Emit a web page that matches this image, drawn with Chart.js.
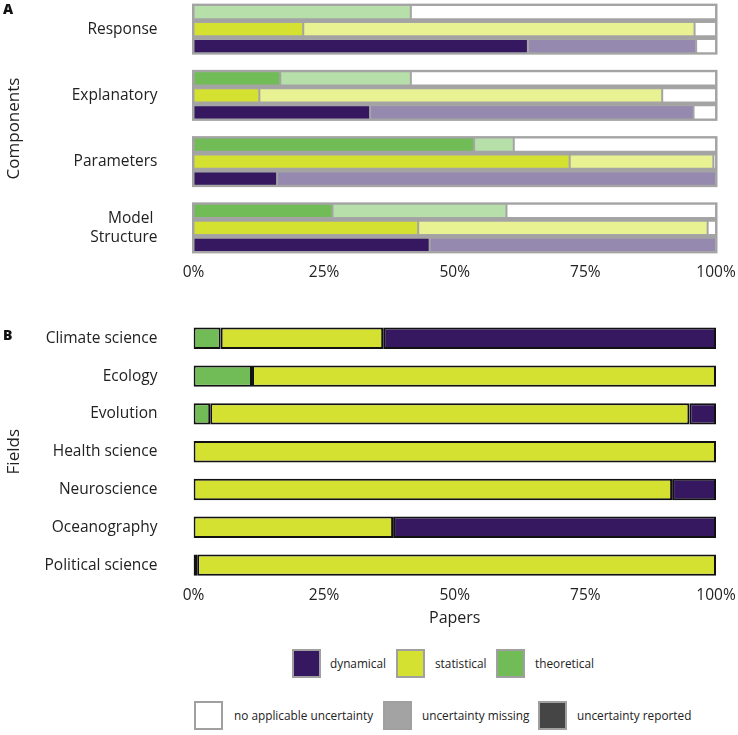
<!DOCTYPE html>
<html><head><meta charset="utf-8">
<script src="https://cdn.jsdelivr.net/npm/chart.js@4.4.1/dist/chart.umd.min.js"></script>
<style>
body{margin:0;width:738px;height:735px;position:relative;overflow:hidden;background:#fff;font-family:"Open Sans","Noto Sans",sans-serif;color:#222;}
canvas{position:absolute;left:0;}
#ca{top:-4px;}
#cb{top:300px;}
.pl{position:absolute;font-weight:800;font-size:14px;line-height:14px;color:#111;}
.box{position:absolute;width:25px;height:25px;border:2px solid #a0a0a0;}
.lt{position:absolute;font-size:11.8px;height:29px;line-height:29px;white-space:nowrap;color:#222;}
</style></head>
<body>
<canvas id="ca" width="738" height="300"></canvas>
<canvas id="cb" width="738" height="330"></canvas>
<div class="pl" style="left:3px;top:2px;">A</div>
<div class="pl" style="left:3px;top:328px;">B</div>
<div id="legend"></div>
<script>
// ---------- Panel A data (percent of papers) ----------
const components = ['Response', 'Explanatory', 'Parameters', ['Model ', 'Structure']];
const theoReported = [0, 16.6, 53.7, 26.6];
const theoMissing  = [41.6, 25.0, 7.6, 33.3];
const theoNone     = [58.4, 58.4, 38.7, 40.1];
const statReported = [21.0, 12.6, 72.0, 43.0];
const statMissing  = [74.9, 77.1, 27.5, 55.4];
const statNone     = [4.1, 10.3, 0.5, 1.6];
const dynReported  = [64.0, 33.8, 16.0, 45.2];
const dynMissing   = [32.2, 61.9, 84.0, 54.8];
const dynNone      = [3.8, 4.3, 0, 0];

// ---------- Panel B data (percent of papers) ----------
const fields = ['Climate science', 'Ecology', 'Evolution', 'Health science', 'Neuroscience', 'Oceanography', 'Political science'];
const theoretical = [5.2, 11.2, 3.2, 0, 0, 0, 0.7];
const statistical = [31.1, 88.8, 91.7, 100, 91.6, 38.2, 99.3];
const dynamical   = [63.7, 0, 5.1, 0, 8.4, 61.8, 0];

const xTicks = [0, 25, 50, 75, 100];

const C = {
  dynDark: '#35185f', dynLight: '#9689b0',
  statDark: '#d5e130', statLight: '#e9f292',
  theoDark: '#72bc57', theoLight: '#b6dfa9',
  none: '#ffffff', gray: '#a3a3a3'
};
const FONT = '"Open Sans", "Noto Sans", sans-serif';

const commonA = {borderColor: '#a6a6a6', borderWidth: 1, borderSkipped: false, barPercentage: 0.84, categoryPercentage: 0.77};
const dsA = [
  {label: 'theoretical reported', data: theoReported, stack: 'theoretical', backgroundColor: C.theoDark},
  {label: 'theoretical missing', data: theoMissing, stack: 'theoretical', backgroundColor: C.theoLight},
  {label: 'theoretical none', data: theoNone, stack: 'theoretical', backgroundColor: C.none},
  {label: 'statistical reported', data: statReported, stack: 'statistical', backgroundColor: C.statDark},
  {label: 'statistical missing', data: statMissing, stack: 'statistical', backgroundColor: C.statLight},
  {label: 'statistical none', data: statNone, stack: 'statistical', backgroundColor: C.none},
  {label: 'dynamical reported', data: dynReported, stack: 'dynamical', backgroundColor: C.dynDark},
  {label: 'dynamical missing', data: dynMissing, stack: 'dynamical', backgroundColor: C.dynLight},
  {label: 'dynamical none', data: dynNone, stack: 'dynamical', backgroundColor: C.none}
].map(d => Object.assign({}, commonA, d));

const groupBoxPlugin = {
  id: 'groupBox',
  beforeDatasetsDraw(chart) {
    const {ctx, scales: {x, y}} = chart;
    const n = chart.data.labels.length;
    const spacing = (y.bottom - y.top) / n;
    const h = spacing * 0.77;
    const x0 = x.getPixelForValue(0) - 1.5, x1 = x.getPixelForValue(100) + 1.5;
    ctx.save();
    ctx.fillStyle = C.gray;
    for (let i = 0; i < n; i++) {
      const cy = y.getPixelForValue(i);
      ctx.fillRect(x0, cy - h / 2, x1 - x0, h);
    }
    ctx.restore();
  }
};

const tickFont = {family: FONT, size: 15.5};
const titleFont = {family: FONT, size: 17};
const noGrid = {display: false, drawTicks: false};

function fixY(s) { s.width = 193.5; s.paddingTop = 0; s.paddingBottom = 0; }

new Chart(document.getElementById('ca'), {
  type: 'bar',
  data: {labels: components, datasets: dsA},
  plugins: [groupBoxPlugin],
  options: {
    indexAxis: 'y', responsive: false, animation: false,
    layout: {padding: {left: 0, right: 22, top: 0, bottom: 0}},
    plugins: {legend: {display: false}, tooltip: {enabled: false}},
    scales: {
      x: {
        min: 0, max: 100, stacked: true,
        grid: noGrid, border: {display: false},
        afterBuildTicks(s) { s.ticks = xTicks.map(v => ({value: v})); },
        ticks: {callback: v => v + '%', font: tickFont, color: '#222', padding: 2, maxRotation: 0},
        afterFit(s) { s.height = 35; }
      },
      y: {
        stacked: true,
        grid: noGrid, border: {display: false},
        ticks: {font: tickFont, color: '#222', padding: 36},
        title: {display: true, text: 'Components', font: titleFont, color: '#222', padding: {top: 4, bottom: 0}},
        afterFit: fixY
      }
    }
  }
});

const commonB = {borderColor: '#111111', borderWidth: 2, borderSkipped: false, barPercentage: 0.565, categoryPercentage: 1};
new Chart(document.getElementById('cb'), {
  type: 'bar',
  data: {
    labels: fields,
    datasets: [
      Object.assign({label: 'theoretical', data: theoretical, backgroundColor: C.theoDark}, commonB),
      Object.assign({label: 'statistical', data: statistical, backgroundColor: C.statDark}, commonB),
      Object.assign({label: 'dynamical', data: dynamical, backgroundColor: C.dynDark}, commonB)
    ]
  },
  options: {
    indexAxis: 'y', responsive: false, animation: false,
    layout: {padding: {left: 0, right: 22, top: 19.4, bottom: 0}},
    plugins: {legend: {display: false}, tooltip: {enabled: false}},
    scales: {
      x: {
        min: 0, max: 100, stacked: true,
        grid: noGrid, border: {display: false},
        afterBuildTicks(s) { s.ticks = xTicks.map(v => ({value: v})); },
        ticks: {callback: v => v + '%', font: tickFont, color: '#222', padding: 2, maxRotation: 0},
        title: {display: true, text: 'Papers', font: {family: FONT, size: 16}, color: '#222', padding: {top: 0, bottom: 2}},
        afterFit(s) { s.height = 46; }
      },
      y: {
        stacked: true,
        grid: noGrid, border: {display: false},
        ticks: {font: tickFont, color: '#222', padding: 36},
        title: {display: true, text: 'Fields', font: titleFont, color: '#222', padding: {top: 4, bottom: 0}},
        afterFit: fixY
      }
    }
  }
});

// ---------- Legend (HTML text) ----------
const legendItems = [
  {label: 'dynamical', color: C.dynDark, bx: 292, tx: 330, top: 649},
  {label: 'statistical', color: C.statDark, bx: 396, tx: 435, top: 649},
  {label: 'theoretical', color: C.theoDark, bx: 496, tx: 535, top: 649},
  {label: 'no applicable uncertainty', color: '#ffffff', bx: 194, tx: 234, top: 701},
  {label: 'uncertainty missing', color: '#a3a3a3', bx: 383, tx: 422, top: 701},
  {label: 'uncertainty reported', color: '#454545', bx: 538, tx: 577, top: 701}
];
const lg = document.getElementById('legend');
legendItems.forEach(it => {
  const b = document.createElement('div');
  b.className = 'box';
  b.style.left = it.bx + 'px'; b.style.top = it.top + 'px'; b.style.background = it.color;
  lg.appendChild(b);
  const t = document.createElement('div');
  t.className = 'lt';
  t.style.left = it.tx + 'px'; t.style.top = it.top + 'px';
  t.textContent = it.label;
  lg.appendChild(t);
});
</script>
</body></html>
